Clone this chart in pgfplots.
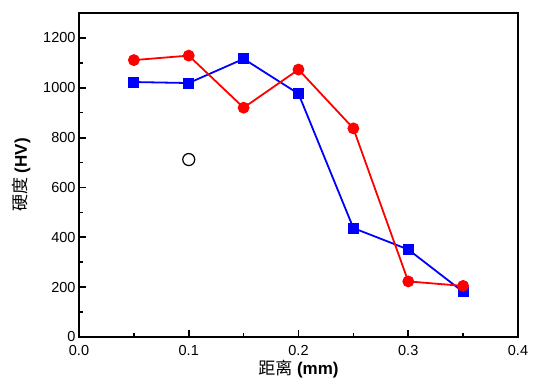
\documentclass[border=0pt]{standalone}
\usepackage{fontspec}
\setmainfont{Liberation Sans}
\newfontfamily\cjk{Noto Sans CJK SC}
\usepackage{pgfplots}
\pgfplotsset{compat=1.18}
\begin{document}
\begin{tikzpicture}
\begin{axis}[
  scale only axis,
  width=439pt, height=324pt,
  xmin=0, xmax=0.4, ymin=0, ymax=1300,
  xtick={0,0.1,0.2,0.3,0.4},
  ytick={0,200,400,600,800,1000,1200},
  minor x tick num=1,
  minor y tick num=1,
  tick align=inside,
  xtick pos=bottom, ytick pos=left,
  major tick length=7pt, minor tick length=4pt,
  every tick/.style={black, line width=1.8pt},
  every minor tick/.style={black, line width=1.5pt},
  axis line style={line width=2pt},
  x tick label style={/pgf/number format/.cd, fixed, fixed zerofill, precision=1, /tikz/.cd, yshift=-5pt},
  y tick label style={/pgf/number format/.cd, 1000 sep={}},
  /pgf/number format/assume math mode=true,
  tick label style={font=\fontsize{14.5pt}{17pt}\selectfont},
  xlabel={{\cjk 距离} \textbf{(mm)}},
  ylabel={{\cjk 硬度} \textbf{(HV)}},
  label style={font=\fontsize{17pt}{19pt}\selectfont},
  xlabel style={yshift=3pt},
  ylabel style={yshift=6pt},
]
\addplot[blue, line width=1.8pt, mark=square*, mark size=4.6pt, mark options={solid}]
coordinates {(0.05,1023) (0.1,1019) (0.15,1116) (0.2,976) (0.25,437) (0.3,351) (0.35,181)};
\addplot[red, line width=1.8pt, mark=*, mark size=5pt, mark options={solid}]
coordinates {(0.05,1111) (0.1,1129) (0.15,920) (0.2,1073) (0.25,837) (0.3,223) (0.35,205)};
\addplot[black, only marks, mark=o, mark size=6pt, line width=1.2pt]
coordinates {(0.1,712)};
\end{axis}
\path ([xshift=-79pt,yshift=-47pt]current axis.south west) rectangle ([xshift=20pt,yshift=13pt]current axis.north east);
\end{tikzpicture}
\end{document}
